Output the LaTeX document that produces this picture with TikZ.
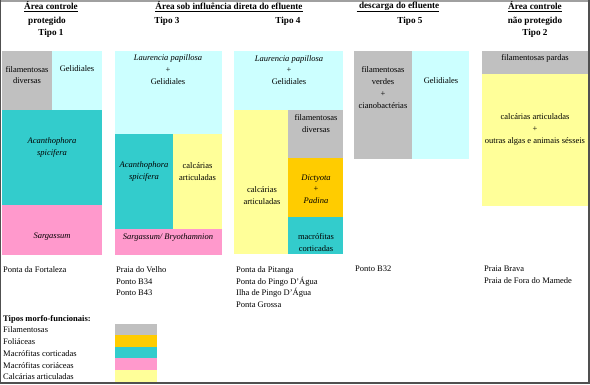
\documentclass[tikz,border=0pt]{standalone}
\usepackage{fontspec}
\setmainfont{Liberation Serif}
\definecolor{cgray}{HTML}{C0C0C0}
\definecolor{ccyan}{HTML}{CCFFFF}
\definecolor{cteal}{HTML}{33CCCC}
\definecolor{cpink}{HTML}{FF99CC}
\definecolor{cyell}{HTML}{FFFF99}
\definecolor{corange}{HTML}{FFCC00}
\definecolor{frameline}{HTML}{505050}
\definecolor{topline}{HTML}{A0A0A0}
\newcommand{\cellbox}[5]{\fill[#5] (#1,#2) rectangle (#3,#4);}
\tikzset{
  txt/.style={inner sep=0pt, align=center, font=\fontsize{8.5}{11.7}\selectfont},
  ltxt/.style={inner sep=0pt, align=left, anchor=west, font=\fontsize{8.5}{11.9}\selectfont},
  hdr/.style={inner sep=0pt, align=center, font=\fontsize{9.2}{12}\selectfont\bfseries},
  lhdr/.style={inner sep=0pt, align=left, anchor=west, font=\fontsize{8.5}{12}\selectfont\bfseries},
}
\begin{document}
\begin{tikzpicture}[x=1pt,y=-1pt]
\useasboundingbox (0,0) rectangle (590,384);
\fill[white] (0,0) rectangle (590,384);
% frame
\draw[topline, line width=1.6pt] (0,0.8) -- (590,0.8);
\draw[frameline, line width=1.2pt] (0.6,0) -- (0.6,384);
\draw[frameline, line width=2pt] (589,0) -- (589,384);
\draw[frameline, line width=2pt] (0,383) -- (590,383);

% headers
\node[hdr] (h1a) at (51,7) {\underline{Área controle}};
\node[hdr] (h1b) at (47,21) {protegido};
\node[hdr] (h1c) at (51,33) {Tipo 1};
\node[hdr] (h2a) at (229,7) {\underline{Área sob influência direta do efluente}};
\node[hdr] (h3) at (167,21) {Tipo 3};
\node[hdr] (h4) at (288,21) {Tipo 4};
\node[hdr] (h5a) at (398,7) {\underline{\ descarga do efluente}};
\node[hdr] (h5) at (410,21) {Tipo 5};
\node[hdr] (h6a) at (535,7) {\underline{Área controle}};
\node[hdr] (h6b) at (535,21) {não protegido};
\node[hdr] (h6c) at (535,33) {Tipo 2};

% column 1
\cellbox{2}{51}{52}{110}{cgray}
\cellbox{52}{51}{102}{110}{ccyan}
\cellbox{2}{110}{102}{205}{cteal}
\cellbox{2}{205}{102}{255}{cpink}
\node[txt] (c1a) at (27,75) {filamentosas\\diversas};
\node[txt] (c1b) at (77,69) {Gelidiales};
\node[txt] (c1c) at (52,147.5) {\itshape Acanthophora\\\itshape spicifera};
\node[txt] (c1d) at (52,237) {\itshape Sargassum};

% column 2
\cellbox{115}{51}{222}{134}{ccyan}
\cellbox{115}{134}{173}{229}{cteal}
\cellbox{173}{134}{222}{229}{cyell}
\cellbox{115}{229}{222}{255}{cpink}
\node[txt] (c2a) at (168,69.5) {\itshape Laurencia papillosa\\+\\Gelidiales};
\node[txt] (c2b) at (144,171.5) {\itshape Acanthophora\\\itshape spicifera};
\node[txt] (c2c) at (197.5,171.5) {calcárias\\articuladas};
\node[txt] (c2d) at (168,237) {\itshape Sargassum/ Bryothamnion};

% column 3
\cellbox{234}{51}{343}{110}{ccyan}
\cellbox{234}{110}{288}{254}{cyell}
\cellbox{288}{110}{343}{158}{cgray}
\cellbox{288}{158}{343}{217}{corange}
\cellbox{288}{217}{343}{254}{cteal}
\node[txt] (c3a) at (289,70) {\itshape Laurencia papillosa\\+\\Gelidiales};
\node[txt] (c3b) at (316,123.5) {filamentosas\\diversas};
\node[txt] (c3c) at (262,195.5) {calcárias\\articuladas};
\node[txt] (c3d) at (316,189) {\itshape Dictyota\\+\\\itshape Padina};
\node[txt] (c3e) at (316,242.5) {macrófitas\\corticadas};

% column 4
\cellbox{354}{51}{412}{159}{cgray}
\cellbox{412}{51}{469}{159}{ccyan}
\node[txt] (c4a) at (383,87.5) {filamentosas\\verdes\\+\\cianobactérias};
\node[txt] (c4b) at (441,81) {Gelidiales};

% column 5
\cellbox{482}{51}{588}{74}{cgray}
\cellbox{482}{74}{588}{206}{cyell}
\node[txt] (c5a) at (535,58) {filamentosas pardas};
\node[txt] (c5b) at (535,129.5) {calcárias articuladas\\+\\outras algas e animais sésseis};

% sites
\node[ltxt, anchor=north west] (s1) at (3,266) {Ponta da Fortaleza};
\node[ltxt, anchor=north west] (s2) at (116,266) {Praia do Velho\\Ponto B34\\Ponto B43};
\node[ltxt, anchor=north west] (s3) at (236,266) {Ponta da Pitanga\\Ponta do Pingo D'Água\\Ilha de Pingo D'Água\\Ponta Grossa};
\node[ltxt, anchor=north west] (s4) at (355,266) {Ponto B32};
\node[ltxt, anchor=north west] (s5) at (484,266) {Praia Brava\\Praia de Fora do Mamede};

% legend
\node[lhdr] (lt) at (3,319) {Tipos morfo-funcionais:};
\node[ltxt] (l1) at (3,330) {Filamentosas};
\node[ltxt] (l2) at (3,342) {Foliáceas};
\node[ltxt] (l3) at (3,353.5) {Macrófitas corticadas};
\node[ltxt] (l4) at (3,365.5) {Macrófitas coriáceas};
\node[ltxt] (l5) at (3,377) {Calcárias articuladas};
\cellbox{115}{323.5}{157}{335}{cgray}
\cellbox{115}{335}{157}{346.5}{corange}
\cellbox{115}{346.5}{157}{358}{cteal}
\cellbox{115}{358}{157}{369.5}{cpink}
\cellbox{115}{369.5}{157}{382}{cyell}
\end{tikzpicture}
\end{document}
